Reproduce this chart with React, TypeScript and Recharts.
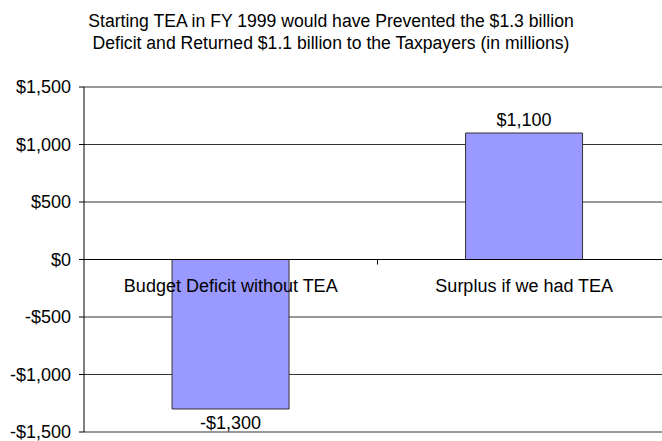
import { Bar, BarChart, CartesianGrid, LabelList, ReferenceLine, XAxis, YAxis } from 'recharts';

const categories = ['Budget Deficit without TEA', 'Surplus if we had TEA'];
const amounts = [-1300, 1100];
const yTicks = [-1500, -1000, -500, 0, 500, 1000, 1500];
const titleLines = [
  'Starting TEA in FY 1999 would have Prevented the $1.3 billion',
  'Deficit and Returned $1.1 billion to the Taxpayers (in millions)',
];

const data = categories.map((name, i) => ({ name, amount: amounts[i] }));

const FONT = '"Liberation Sans", Arial, sans-serif';
const FS = 18;
const TOP = 87;
const BOTTOM = 8;
const HEIGHT = 441;
const X_AXIS_H = 1;
const PLOT_H = HEIGHT - TOP - BOTTOM - X_AXIS_H;
const ZERO_Y = TOP + PLOT_H / 2;
const BAND = (700 - 84 - 29) / categories.length;

function money(v: number): string {
  const s = '$' + Math.abs(v).toLocaleString('en-US');
  return v < 0 ? '-' + s : s;
}

// category labels sit just under the zero line, like Excel's "next to axis"
function renderCategoryTick(props: any) {
  const { x, payload } = props;
  return (
    <g>
      <line x1={x + BAND / 2} x2={x + BAND / 2} y1={ZERO_Y} y2={ZERO_Y + 5} stroke="#000" />
      <text x={x} y={ZERO_Y + 32} textAnchor="middle" fill="#000" fontSize={FS} fontFamily={FONT}>
        {payload.value}
      </text>
    </g>
  );
}

export default function App() {
  return (
    <div style={{ position: 'absolute', left: 0, top: 0, width: 662, height: HEIGHT, overflow: 'hidden', background: '#fff' }}>
      <div
        style={{
          position: 'absolute',
          top: 10,
          left: 0,
          width: 662,
          textAlign: 'center',
          fontFamily: FONT,
          fontSize: 17.6,
          lineHeight: '22px',
          color: '#000',
          whiteSpace: 'nowrap',
        }}
      >
        {titleLines.map((t) => (
          <div key={t}>{t}</div>
        ))}
      </div>
      <BarChart
        width={700}
        height={HEIGHT}
        data={data}
        margin={{ top: TOP, right: 29, bottom: BOTTOM, left: 0 }}
        barCategoryGap="30%"
      >
        <CartesianGrid horizontal vertical={false} stroke="#333" strokeDasharray="" />
        <XAxis dataKey="name" axisLine={false} tickLine={false} tick={renderCategoryTick} height={X_AXIS_H} interval={0} />
        <YAxis
          width={84}
          domain={[-1500, 1500]}
          ticks={yTicks}
          tickFormatter={money}
          tickSize={5}
          tickMargin={8}
          axisLine={{ stroke: '#000' }}
          tickLine={{ stroke: '#000' }}
          tick={{ fill: '#000', fontSize: FS, fontFamily: FONT }}
          interval={0}
        />
        <ReferenceLine y={0} stroke="#000" />
        <Bar dataKey="amount" fill="#9999FF" stroke="#333" strokeWidth={1} isAnimationActive={false}>
          <LabelList
            dataKey="amount"
            position="top"
            offset={7}
            formatter={(v: any) => money(Number(v))}
            style={{ fill: '#000', fontSize: FS, fontFamily: FONT }}
          />
        </Bar>
      </BarChart>
    </div>
  );
}
